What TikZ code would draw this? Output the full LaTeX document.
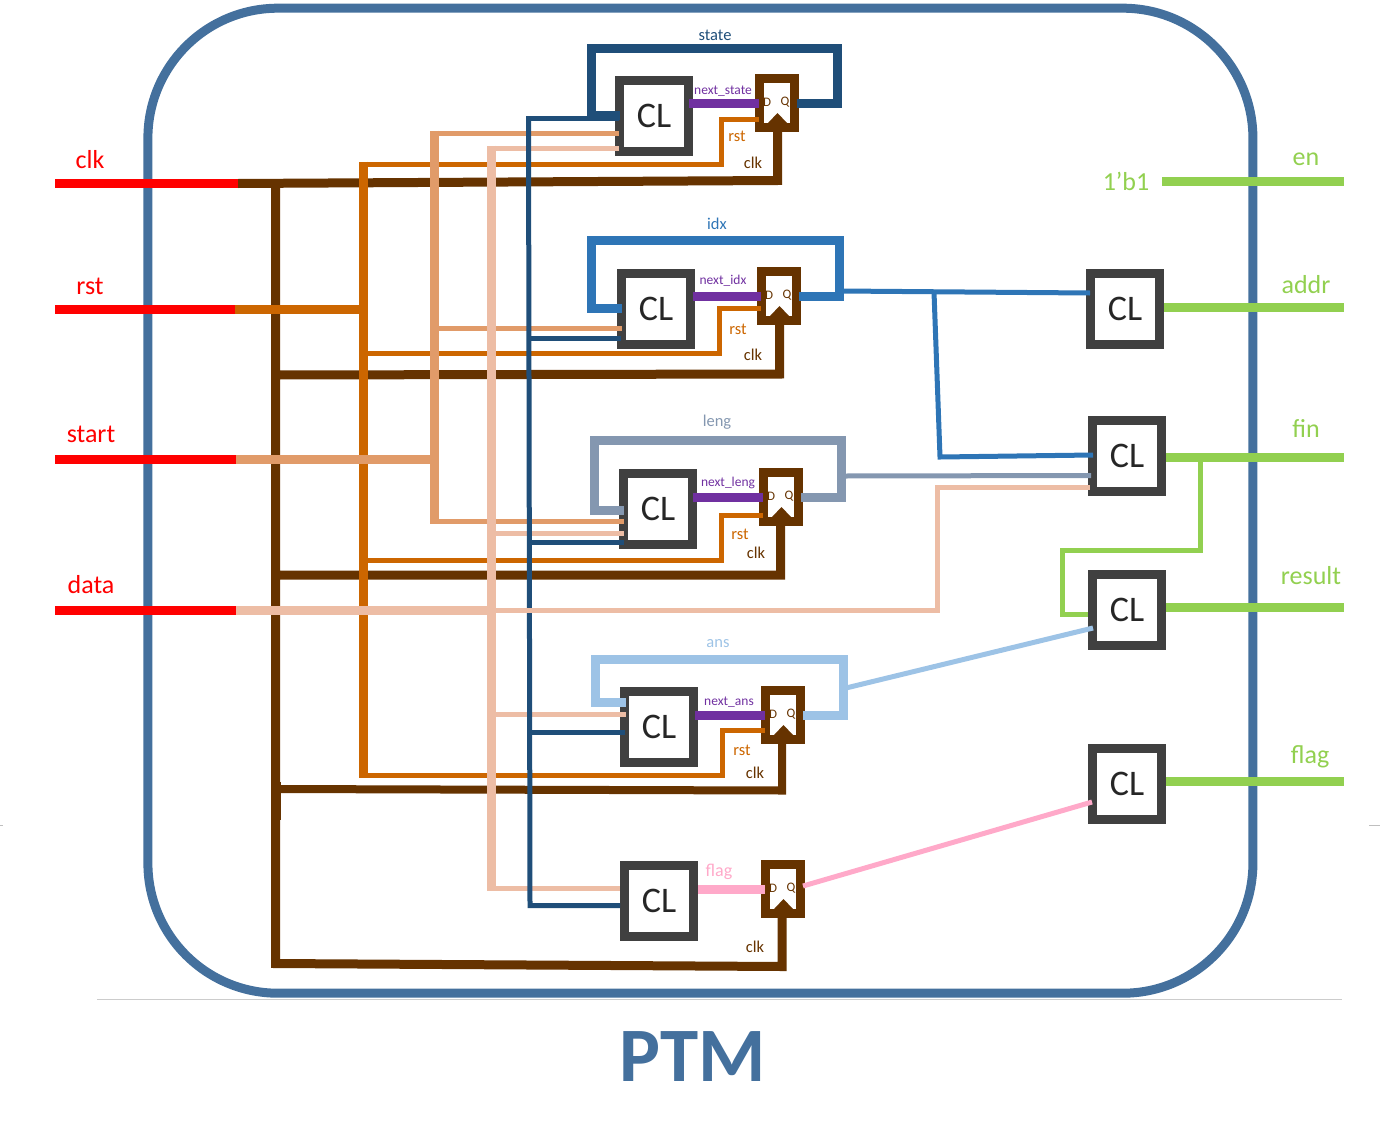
\documentclass[tikz,border=0pt]{standalone}
\usepackage{fontspec}
\setmainfont{Carlito}
\definecolor{framecol}{RGB}{68,112,157}
\definecolor{stateblue}{RGB}{31,78,121}
\definecolor{idxblue}{RGB}{46,117,182}
\definecolor{lenggray}{RGB}{132,151,176}
\definecolor{ansblue}{RGB}{157,195,230}
\definecolor{flagpink}{RGB}{255,169,201}
\definecolor{nextpurple}{RGB}{112,48,160}
\definecolor{clkbrown}{RGB}{102,51,0}
\definecolor{rstorange}{RGB}{204,102,0}
\definecolor{startpeach}{RGB}{225,155,105}
\definecolor{datapeach}{RGB}{237,189,165}
\definecolor{outgreen}{RGB}{146,208,80}
\definecolor{blockgray}{RGB}{64,64,64}
\newcommand{\fs}[1]{\fontsize{#1}{#1}\selectfont}

\begin{document}
\begin{tikzpicture}[x=1pt,y=-1pt,line join=miter]
 \tikzstyle{frame}=[draw=framecol,line width=9pt,rounded corners=130pt,minimum width=1105pt,minimum height=985pt]
 \tikzstyle{clbox}=[draw=blockgray,line width=9pt,fill=white,inner sep=0pt,minimum width=69pt,minimum height=71pt,text=black!85,font=\fs{36}]
 \tikzstyle{ffbox}=[draw=clkbrown,line width=9pt,fill=white,inner sep=0pt,minimum width=35pt,minimum height=49pt,
   path picture={
     \begin{scope}[shift={(path picture bounding box.center)}]
       \fill[clkbrown] (-9,20) -- (0.5,10) -- (10,20) -- (10,30) -- (-9,30) -- cycle;
       \node[text=clkbrown,font=\fs{13},inner sep=0pt] at (-10,-1) {D};
       \node[text=clkbrown,font=\fs{13},inner sep=0pt] at (8,-1) {Q};
     \end{scope}}]
 \tikzstyle{inlabel}=[text=red,font=\fs{26},inner sep=0pt]
 \tikzstyle{outlabel}=[text=outgreen,font=\fs{26},inner sep=0pt]
 \tikzstyle{small}=[font=\fs{16.5},inner sep=0pt]
 \tikzstyle{nextlabel}=[text=nextpurple,font=\fs{13.5},inner sep=0pt]
 \tikzstyle{inwire}=[draw=red,line width=9pt]
 \tikzstyle{outwire}=[draw=outgreen,line width=9pt]
 \tikzstyle{nextwire}=[draw=nextpurple,line width=9pt]
 \tikzstyle{thick bus}=[line width=9pt]
 \tikzstyle{thin bus}=[line width=5pt]

 \useasboundingbox (0,0) rectangle (1380,1132);

 \node[frame] (ptm) at (700.4,500.7) {};
 \draw[black!20,line width=1pt] (97,999) -- (1342,999);
 \draw[black!25,line width=1pt] (0,825) -- (3,825);
 \draw[black!25,line width=1pt] (1369,825) -- (1380,825);
 \node[text=framecol,font=\bfseries\fs{77},inner sep=0pt] (title) at (693,1057) {PTM};

 % blocks
 \node[clbox] (clstate) at (654,115.5) {CL};
 \node[clbox] (clidx) at (656,308.5) {CL};
 \node[clbox] (clleng) at (658,509) {CL};
 \node[clbox] (clans) at (659,727) {CL};
 \node[clbox] (clflag) at (659,901) {CL};
 \node[clbox] (claddr) at (1125,309) {CL};
 \node[clbox] (clfin) at (1127,456) {CL};
 \node[clbox] (clresult) at (1127,610) {CL};
 \node[clbox] (cloflag) at (1127,784) {CL};
 \node[ffbox] (ffstate) at (777,103) {};
 \node[ffbox] (ffidx) at (779,296) {};
 \node[ffbox] (ffleng) at (781,497) {};
 \node[ffbox] (ffans) at (783,715) {};
 \node[ffbox] (ffflag) at (783,889) {};

 % inputs and outputs
 \node[inlabel] (clk) at (90,160) {clk};
 \node[inlabel] (rst) at (90,286) {rst};
 \node[inlabel] (start) at (91,434) {start};
 \node[inlabel] (data) at (91,585) {data};
 \node[outlabel] (en) at (1306,159) {en};
 \node[outlabel] (bone) at (1126,181) {1’b1};
 \node[outlabel] (addr) at (1306,285) {addr};
 \node[outlabel] (fin) at (1306,429) {fin};
 \node[outlabel] (result) at (1311,576) {result};
 \node[outlabel] (flag) at (1310,757) {flag};

 \coordinate (clkin) at (55,183.5);
 \coordinate (rstin) at (55,309.5);
 \coordinate (startin) at (55,459.5);
 \coordinate (datain) at (55,610.5);
 \coordinate (clkout) at (238,183.5);
 \coordinate (rstout) at (235,309.5);
 \coordinate (startout) at (236,459.5);
 \coordinate (dataout) at (236,610.5);
 \coordinate (enin) at (1162,181.5);
 \coordinate (enout) at (1344,181.5);
 \coordinate (addrout) at (1344,307.5);
 \coordinate (finout) at (1344,457.5);
 \coordinate (resultout) at (1344,607.5);
 \coordinate (flagout) at (1344,781.5);

 % bus junctions
 \coordinate (clktop) at (275.5,183);
 \coordinate (clkidx) at (275.5,375);
 \coordinate (clkleng) at (275.5,575);
 \coordinate (clkans) at (275.5,789);
 \coordinate (clkflag) at (275.5,963.5);
 \coordinate (rsttop) at (363.5,164);
 \coordinate (rstmid) at (363.5,309.5);
 \coordinate (rstidx) at (363.5,353);
 \coordinate (rstleng) at (363.5,560.5);
 \coordinate (rstans) at (363.5,775);
 \coordinate (starttop) at (434.5,133);
 \coordinate (startidx) at (434.5,328);
 \coordinate (startmid) at (434.5,459.5);
 \coordinate (startleng) at (434.5,521.5);
 \coordinate (datatop) at (491.5,148);
 \coordinate (dataleng) at (491.5,533.5);
 \coordinate (datamid) at (491.5,610.5);
 \coordinate (dataans) at (491.5,714.5);
 \coordinate (dataflag) at (491.5,888);
 \coordinate (statetop) at (528.5,118);
 \coordinate (stateidx) at (529,338);
 \coordinate (stateleng) at (529.5,542.5);
 \coordinate (stateans) at (530,732);
 \coordinate (stateflag) at (530,905.5);

 % clk
 \path[draw=clkbrown,thick bus]
   (clkout) -- (777.5,180.5) -- (ffstate.south -| 777.5,0)
   (clktop) -- (clkflag) -- (782,966.5) -- (ffflag.south -| 782,0)
   (clkidx) -- (779.5,374) -- (ffidx.south -| 779.5,0)
   (clkleng) -- (780.5,575) -- (ffleng.south -| 780.5,0);
 \draw[clkbrown,line width=8pt] (clkans) -- (782,790.5) -- (ffans.south -| 782,0);
 \draw[clkbrown,line width=10pt] (276,782) -- (276,820);

 % rst
 \draw[rstorange,thick bus] (rstout) -- (rstmid);
 \draw[rstorange,thick bus] (363.5,161.5) -- (363.5,777.5);
 \path[draw=rstorange,thin bus]
   (rsttop) -- (721,164) |- ([shift={(4,16)}]ffstate.west)
   (rstidx) -- (719,353) |- ([shift={(4,12)}]ffidx.west)
   (rstleng) -- (721,560.5) |- ([shift={(4,18)}]ffleng.west)
   (rstans) -- (722,775) |- ([shift={(4,15)}]ffans.west);

 % start
 \draw[startpeach,thick bus] (startout) -- (startmid);
 \draw[startpeach,thick bus] (434.5,130.5) -- (434.5,524);
 \path[draw=startpeach,thin bus]
   (starttop) -- ([shift={(4,17.5)}]clstate.west)
   (startidx) -- ([shift={(5,19.5)}]clidx.west)
   (startleng) -- ([shift={(5,12.5)}]clleng.west);

 % data
 \draw[datapeach,thick bus] (dataout) -- (datamid);
 \draw[datapeach,thick bus] (491.5,145.5) -- (491.5,890.5);
 \path[draw=datapeach,thin bus]
   (datatop) -- ([shift={(4,32.5)}]clstate.west)
   (dataleng) -- ([shift={(5,24.5)}]clleng.west)
   (dataans) -- ([shift={(6,-12.5)}]clans.west)
   (dataflag) -- (clflag.west |- dataflag);

 % state
 \draw[stateblue,thick bus] ([xshift=-2pt]ffstate.east) -- (837.5,103) -- (837.5,48.5) -- (591,48.5) |- ([shift={(5,0)}]clstate.west);
 \draw[stateblue,thin bus] (526,118) -- ([xshift=4pt]clstate.west |- statetop);
 \draw[stateblue,thin bus] (statetop) -- (stateflag) -- (clflag.west |- stateflag);
 \draw[stateblue,thin bus] (stateidx) -- ([shift={(4,29.5)}]clidx.west);
 \draw[stateblue,thin bus] (stateleng) -- ([shift={(5,33.5)}]clleng.west);
 \draw[stateblue,thin bus] (stateans) -- ([shift={(5,5)}]clans.west);

 % data line to fin, lies over the state bus
 \draw[datapeach,thin bus] (datamid) -- (937,610.5) |- ([shift={(2,31)}]clfin.west);

 % idx, leng, ans, flag
 \draw[idxblue,thick bus] ([xshift=-2pt]ffidx.east) -- (839.5,296) -- (839.5,240) -- (591.5,240) |- ([shift={(5,0)}]clidx.west);
 \draw[idxblue,thin bus] (840,291) -- ([shift={(4,-16)}]claddr.west);
 \draw[idxblue,thin bus] (934,292) -- (940,457) -- ([shift={(5,-1)}]clfin.west);
 \draw[lenggray,thick bus] ([xshift=-2pt]ffleng.east) -- (841.5,497) -- (841.5,440.5) -- (594,440.5) |- ([shift={(5,1)}]clleng.west);
 \draw[lenggray,thin bus] (844,476) -- ([shift={(3,19.5)}]clfin.west);
 \draw[ansblue,thick bus] ([xshift=-2pt]ffans.east) -- (843.5,715) -- (843.5,659.5) -- (595.5,659.5) |- ([shift={(6,-24.5)}]clans.west);
 \draw[ansblue,thin bus] (846,688) -- ([shift={(5,18)}]clresult.west);
 \draw[flagpink,thick bus] (clflag.east |- ffflag.west) -- ([shift={(4,0)}]ffflag.west);
 \draw[flagpink,thin bus] ([shift={(-2,-3)}]ffflag.east) -- ([shift={(4,18)}]cloflag.west);

 % next values
 \draw[nextwire] ([xshift=-4pt]clstate.east |- ffstate.west) -- ([xshift=4pt]ffstate.west);
 \draw[nextwire] ([xshift=-2pt]clidx.east |- ffidx.west) -- ([xshift=4pt]ffidx.west);
 \draw[nextwire] ([xshift=-4pt]clleng.east |- ffleng.west) -- ([xshift=4pt]ffleng.west);
 \draw[nextwire] ([xshift=-3pt]clans.east |- ffans.west) -- ([xshift=4pt]ffans.west);

 % ports
 \draw[inwire] (clkin) -- (clkout);
 \draw[inwire] (rstin) -- (rstout);
 \draw[inwire] (startin) -- (startout);
 \draw[inwire] (datain) -- (dataout);
 \draw[outwire] (enin) -- (enout);
 \draw[outwire] (claddr.east |- addrout) -- (addrout);
 \draw[outwire] (clfin.east |- finout) -- (finout);
 \draw[outwire] (clresult.east |- resultout) -- (resultout);
 \draw[outwire] (cloflag.east |- flagout) -- (flagout);
 \draw[outgreen,thin bus] (1200.5,457) -- (1200.5,550) -- (1062.5,550) |- ([shift={(0,4)}]clresult.west);

 % labels
 \node[small,text=stateblue] (lstate) at (715,35) {state};
 \node[small,text=idxblue] (lidx) at (717,224) {idx};
 \node[small,text=lenggray] (lleng) at (717,422) {leng};
 \node[small,text=ansblue] (lans) at (718,644) {ans};
 \node[small,text=flagpink,font=\fs{18}] (lflag) at (719,871.5) {flag};
 \node[nextlabel] (nstate) at (723,91.5) {next\_state};
 \node[nextlabel] (nidx) at (723,280.5) {next\_idx};
 \node[nextlabel] (nleng) at (728,482.5) {next\_leng};
 \node[nextlabel] (nans) at (729,702.5) {next\_ans};
 \node[small,text=rstorange] (rststate) at (737,136) {rst};
 \node[small,text=rstorange] (rstidxl) at (738,329) {rst};
 \node[small,text=rstorange] (rstlengl) at (740,534) {rst};
 \node[small,text=rstorange] (rstansl) at (742,750) {rst};
 \node[small,text=clkbrown] (clkstate) at (753,163) {clk};
 \node[small,text=clkbrown] (clkidxl) at (753,355) {clk};
 \node[small,text=clkbrown] (clklengl) at (756,553) {clk};
 \node[small,text=clkbrown] (clkansl) at (755,773) {clk};
 \node[small,text=clkbrown] (clkflagl) at (755,947) {clk};
\end{tikzpicture}
\end{document}
